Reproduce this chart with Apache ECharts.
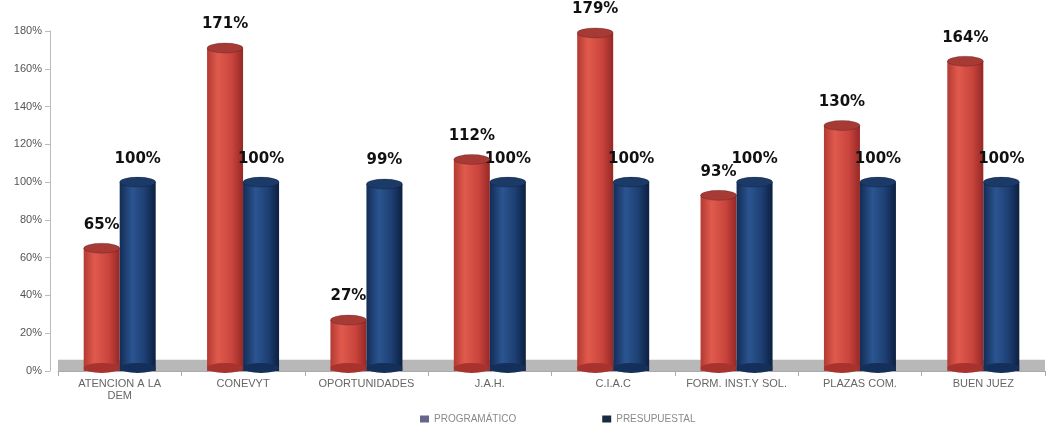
<!DOCTYPE html>
<html><head><meta charset="utf-8">
<script src="https://cdn.jsdelivr.net/npm/echarts@6/dist/echarts.min.js"></script>
<style>html,body{margin:0;padding:0;background:#fff}#c{width:1050px;height:427px}</style>
</head><body><div id="c"></div>
<script>
const categories = ['ATENCION A LA\nDEM','CONEVYT','OPORTUNIDADES','J.A.H.','C.I.A.C','FORM. INST.Y SOL.','PLAZAS COM.','BUEN JUEZ'];
const programatico = [65,171,27,112,179,93,130,164];
const presupuestal = [100,100,99,100,100,100,100,100];
const yTicks = {min:0, max:180, interval:20};

const chart = echarts.init(document.getElementById('c'));
function grad(stops){return {type:'linear',x:0,y:0,x2:1,y2:0,colorStops:stops.map(s=>({offset:s[0],color:s[1]}))};}
const redGrad = grad([[0,'#b33a32'],[0.3,'#e05a4d'],[0.7,'#c9443c'],[1,'#952826']]);
const blueGrad = grad([[0,'#132c55'],[0.35,'#2b5591'],[0.7,'#1d3f73'],[1,'#0d1f40']]);
function caps(name,data,dx,topC,botC){
  return {type:'custom',name:name,silent:true,z:3,
    data:data.map((v,i)=>[i,v]),
    renderItem:function(params,api){
      const t=api.coord([api.value(0),api.value(1)]);
      const b=api.coord([api.value(0),0]);
      return {type:'group',children:[
        {type:'circle',shape:{cx:0,cy:0,r:18},x:b[0]+dx,y:b[1]-3,scaleY:5/18,style:{fill:botC}},
        {type:'circle',shape:{cx:0,cy:0,r:18},x:t[0]+dx,y:t[1],scaleY:5/18,style:{fill:topC,stroke:'rgba(0,0,0,0.3)',lineWidth:1}}
      ]};
    }};
}
const lbl = {show:true,position:'top',distance:16,formatter:'{c}%',fontFamily:'DejaVu Sans',fontWeight:'bold',fontSize:15,color:'#111'};
chart.setOption({
  animation:false,
  grid:{left:58,right:5,top:31,bottom:56},
  legend:{top:412,left:415,itemGap:86,itemWidth:9,itemHeight:7,icon:'rect',padding:[2,5,2,5],
    textStyle:{color:'#8a8a8a',fontSize:10,fontFamily:'Liberation Sans'},
    data:[{name:'PROGRAMÁTICO',itemStyle:{color:'#66668a'}},{name:'PRESUPUESTAL',itemStyle:{color:'#1b2a40'}}]},
  xAxis:{type:'category',data:categories,
    axisLine:{lineStyle:{color:'#aaa'}},axisTick:{show:true,lineStyle:{color:'#aaa'}},
    axisLabel:{color:'#666',fontSize:11,fontFamily:'Liberation Sans',margin:7,lineHeight:12,interval:0}},
  yAxis:{type:'value',min:yTicks.min,max:yTicks.max,interval:yTicks.interval,offset:8,
    axisLine:{show:true,lineStyle:{color:'#bbb'}},axisTick:{show:true,lineStyle:{color:'#bbb'}},
    splitLine:{show:false},
    axisLabel:{formatter:'{value}%',color:'#555',fontSize:11,fontFamily:'Liberation Sans',margin:8}},
  series:[
    {type:'bar',name:'PROGRAMÁTICO',data:programatico,barWidth:36,barGap:'0%',z:2,
      itemStyle:{color:redGrad},label:lbl,
      markArea:{silent:true,itemStyle:{color:'#b8b8b8'},data:[[{yAxis:0},{yAxis:6}]]}},
    {type:'bar',name:'PRESUPUESTAL',data:presupuestal,barWidth:36,barGap:'0%',z:2,
      itemStyle:{color:blueGrad},label:lbl},
    caps('capR',programatico,-18,'#a83a36','#a8332e'),
    caps('capB',presupuestal,18,'#1c3a68','#14305a')
  ]
});
</script></body></html>
